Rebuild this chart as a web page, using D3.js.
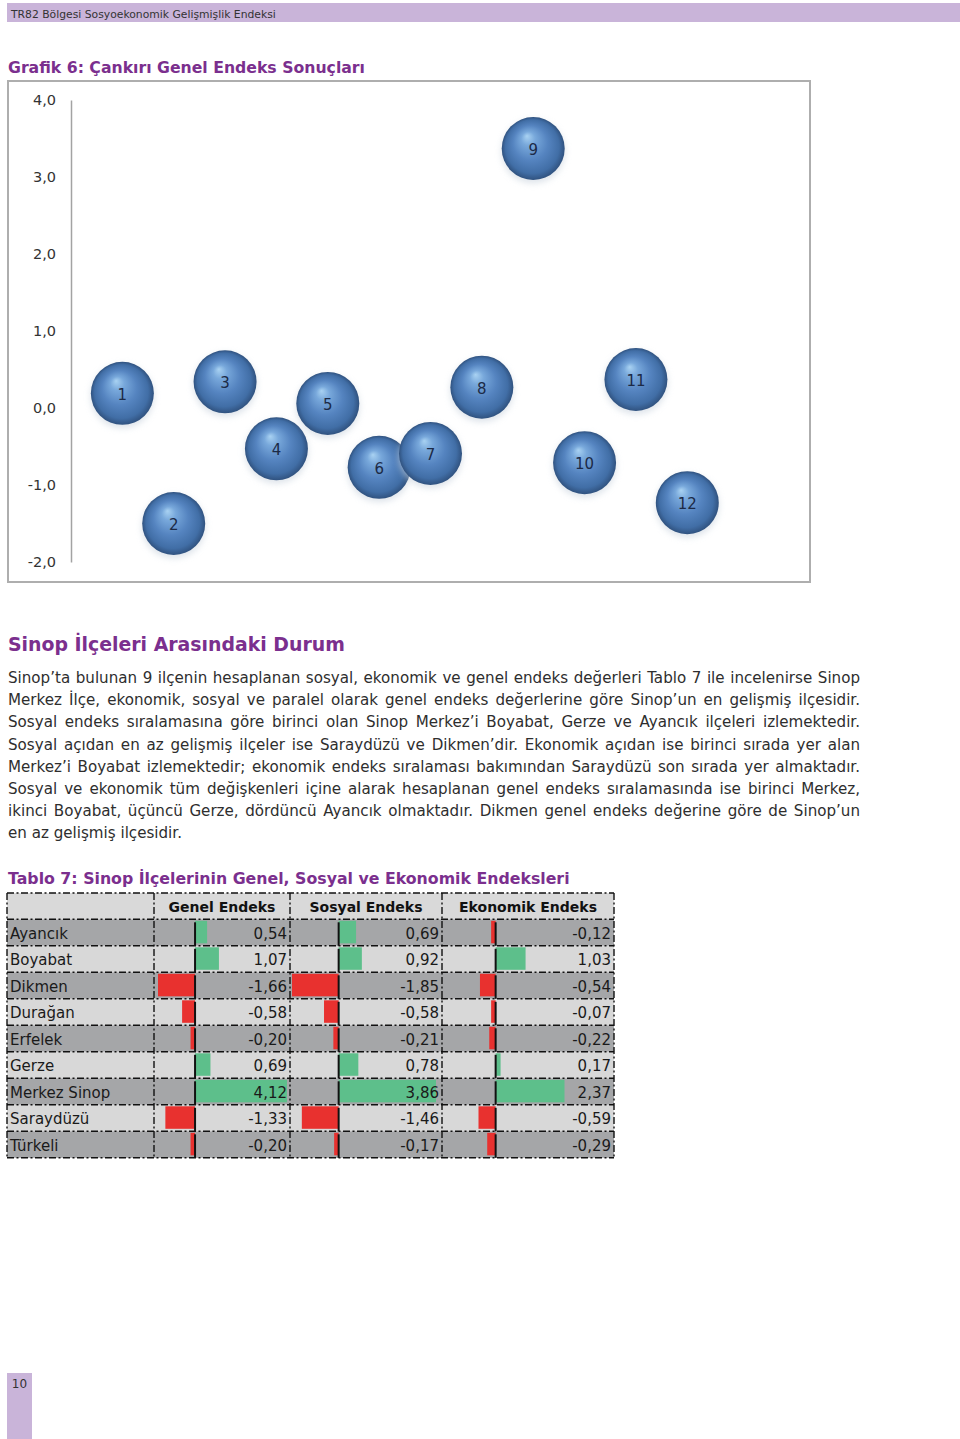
<!DOCTYPE html>
<html>
<head>
<meta charset="utf-8">
<script src="https://cdn.jsdelivr.net/npm/d3@7"></script>
<style>
  html, body { margin: 0; padding: 0; background: #fff; }
  svg { display: block; }
</style>
</head>
<body>
<script>
// ---------------- DATA ----------------
const headerText = "TR82 Bölgesi Sosyoekonomik Gelişmişlik Endeksi";
const chartTitle = "Grafik 6: Çankırı Genel Endeks Sonuçları";
const bubbleIds = [1, 2, 3, 4, 5, 6, 7, 8, 9, 10, 11, 12];
const bubbleValues = [0.19, -1.50, 0.34, -0.53, 0.06, -0.77, -0.59, 0.27, 3.37, -0.71, 0.37, -1.23];
const yTickValues = [4, 3, 2, 1, 0, -1, -2];

const sectionTitle = "Sinop İlçeleri Arasındaki Durum";
const paragraphLines = [
  "Sinop’ta bulunan 9 ilçenin hesaplanan sosyal, ekonomik ve genel endeks değerleri Tablo 7 ile incelenirse Sinop",
  "Merkez İlçe, ekonomik, sosyal ve paralel olarak genel endeks değerlerine göre Sinop’un en gelişmiş ilçesidir.",
  "Sosyal endeks sıralamasına göre birinci olan Sinop Merkez’i Boyabat, Gerze ve Ayancık ilçeleri izlemektedir.",
  "Sosyal açıdan en az gelişmiş ilçeler ise Saraydüzü ve Dikmen’dir.  Ekonomik açıdan ise birinci sırada yer alan",
  "Merkez’i Boyabat izlemektedir; ekonomik endeks sıralaması bakımından Saraydüzü son sırada yer almaktadır.",
  "Sosyal ve ekonomik tüm değişkenleri içine alarak hesaplanan genel endeks sıralamasında ise birinci Merkez,",
  "ikinci Boyabat, üçüncü Gerze, dördüncü Ayancık olmaktadır.  Dikmen genel endeks değerine göre de Sinop’un",
  "en az gelişmiş ilçesidir."
];

const tableTitle = "Tablo 7: Sinop İlçelerinin Genel, Sosyal ve Ekonomik Endeksleri";
const tableHeaders = ["Genel Endeks", "Sosyal Endeks", "Ekonomik Endeks"];
const districts = ["Ayancık", "Boyabat", "Dikmen", "Durağan", "Erfelek", "Gerze", "Merkez Sinop", "Saraydüzü", "Türkeli"];
const genelValues = [0.54, 1.07, -1.66, -0.58, -0.20, 0.69, 4.12, -1.33, -0.20];
const sosyalValues = [0.69, 0.92, -1.85, -0.58, -0.21, 0.78, 3.86, -1.46, -0.17];
const ekonomikValues = [-0.12, 1.03, -0.54, -0.07, -0.22, 0.17, 2.37, -0.59, -0.29];
const pageNumber = "10";

// ---------------- SETUP ----------------
const W = 960, H = 1439;
const FONT = "'DejaVu Sans', Verdana, sans-serif";
const PURPLE = "#7b2f8e";
const svg = d3.select("body").append("svg").attr("width", W).attr("height", H)
  .style("font-family", FONT);
svg.append("rect").attr("width", W).attr("height", H).attr("fill", "#fff");

function fitText(sel, target) {
  const fs = parseFloat(sel.attr("font-size"));
  const w = sel.node().getComputedTextLength();
  sel.attr("font-size", (fs * target / w).toFixed(2));
  return sel;
}

// header bar
svg.append("rect").attr("x", 7).attr("y", 3).attr("width", W - 7).attr("height", 19).attr("fill", "#c9b4d9");
fitText(svg.append("text").attr("x", 11).attr("y", 17.5).attr("font-size", 12).attr("fill", "#333")
  .text(headerText), 265);

// chart title
fitText(svg.append("text").attr("x", 8).attr("y", 73).attr("font-size", 18).attr("font-weight", "bold")
  .attr("fill", PURPLE).text(chartTitle), 357);

// ---------------- BUBBLE CHART ----------------
svg.append("rect").attr("x", 8).attr("y", 81).attr("width", 802).attr("height", 501)
  .attr("fill", "#fff").attr("stroke", "#aeaeae").attr("stroke-width", 2);

const defs = svg.append("defs");
const grad = defs.append("radialGradient").attr("id", "ball")
  .attr("cx", "50%").attr("cy", "50%").attr("r", "50%").attr("fx", "40%").attr("fy", "30%");
[["0%", "#a9d2f2"], ["22%", "#78a8db"], ["55%", "#5584c0"], ["85%", "#416ea6"], ["100%", "#30527f"]]
  .forEach(([o, c]) => grad.append("stop").attr("offset", o).attr("stop-color", c));
const blur = defs.append("filter").attr("id", "soft").attr("x", "-50%").attr("y", "-50%").attr("width", "200%").attr("height", "200%");
blur.append("feGaussianBlur").attr("stdDeviation", 3);

const x = d3.scaleLinear().domain([0, 14]).range([71, 790]);
const y = d3.scaleLinear().domain([-2, 4]).range([562, 100]);

const yAxis = d3.axisLeft(y).tickValues(yTickValues).tickSize(0).tickPadding(15)
  .tickFormat(d => d3.format(".1f")(d).replace(".", ",").replace("−", "-"));
const ga = svg.append("g").attr("transform", `translate(${x(0)},0)`).call(yAxis);
ga.select(".domain").attr("stroke", "#a3a3a3").attr("stroke-width", 1.5);
ga.selectAll("text").attr("font-size", 14.5).attr("font-family", FONT).attr("fill", "#333");

const bubbles = svg.append("g").selectAll("g").data(bubbleIds).join("g")
  .attr("transform", (d, i) => `translate(${x(d)},${y(bubbleValues[i])})`);
bubbles.append("circle").attr("r", 32).attr("cy", 3).attr("fill", "#c9d3de").attr("opacity", 0.6).attr("filter", "url(#soft)");
bubbles.append("circle").attr("r", 31.5).attr("fill", "url(#ball)");
bubbles.append("text").attr("text-anchor", "middle").attr("dy", "0.36em").attr("y", 1)
  .attr("font-size", 15).attr("fill", "#1c2a46").text(d => d);

// ---------------- TEXT SECTION ----------------
fitText(svg.append("text").attr("x", 8).attr("y", 651).attr("font-size", 20).attr("font-weight", "bold")
  .attr("fill", PURPLE).text(sectionTitle), 337);

// determine body font size from the last (unjustified) line
const probe = svg.append("text").attr("font-size", 15).text(paragraphLines[paragraphLines.length - 1]);
const bodyFs = 15 * 174 / probe.node().getComputedTextLength();
probe.remove();

const body = svg.append("g").attr("font-size", bodyFs.toFixed(2)).attr("fill", "#2e2e2e");
paragraphLines.forEach((line, li) => {
  const yb = 683 + li * 22.2;
  const words = line.split(/\s+/);
  const justify = li < paragraphLines.length - 1;
  const els = words.map(w => body.append("text").attr("y", yb).text(w));
  const widths = els.map(e => e.node().getComputedTextLength());
  const total = d3.sum(widths);
  const spaceW = bodyFs * 0.318;
  const gap = justify ? (852 - total) / (words.length - 1) : spaceW;
  let cx = 8;
  els.forEach((e, i) => { e.attr("x", cx); cx += widths[i] + gap; });
});

// ---------------- TABLE ----------------
fitText(svg.append("text").attr("x", 8).attr("y", 884).attr("font-size", 18).attr("font-weight", "bold")
  .attr("fill", PURPLE).text(tableTitle), 562);

const tTop = 893, hdrH = 26.3, rowH = 26.5;
const rowY = i => tTop + hdrH + i * rowH;
const tBottom = rowY(districts.length);
const colEdges = [7, 154, 290, 442, 614];
const cols = [
  { vals: genelValues, x0: 154, x1: 290, range: [158, 287] },
  { vals: sosyalValues, x0: 290, x1: 442, range: [292, 436] },
  { vals: ekonomikValues, x0: 442, x1: 614, range: [478.5, 564.5] }
];
const tbl = svg.append("g");
// backgrounds
tbl.append("rect").attr("x", 7).attr("y", tTop).attr("width", 607).attr("height", hdrH).attr("fill", "#d9d9d9");
tbl.selectAll("rect.row").data(districts).join("rect").attr("class", "row")
  .attr("x", 7).attr("y", (d, i) => rowY(i)).attr("width", 607).attr("height", rowH)
  .attr("fill", (d, i) => i % 2 === 0 ? "#a5a6a8" : "#d8d8d8");

// bars
cols.forEach(c => {
  const s = d3.scaleLinear().domain(d3.extent(c.vals)).range(c.range);
  const z = s(0);
  tbl.append("g").selectAll("rect").data(c.vals).join("rect")
    .attr("x", v => v >= 0 ? z : Math.min(s(v), z - 4.5)).attr("width", v => Math.max(Math.abs(s(v) - z), 4.5))
    .attr("y", (v, i) => rowY(i) + 1.5).attr("height", rowH - 4)
    .attr("fill", v => v >= 0 ? "#5dbf8b" : "#e8312f");
  tbl.append("g").selectAll("line").data(c.vals).join("line")
    .attr("x1", z).attr("x2", z).attr("y1", (v, i) => rowY(i) + 3).attr("y2", (v, i) => rowY(i) + rowH)
    .attr("stroke", "#111").attr("stroke-width", 2);
  tbl.append("g").selectAll("text").data(c.vals).join("text")
    .attr("x", c.x1 - 3).attr("y", (v, i) => rowY(i) + rowH / 2 + 6).attr("text-anchor", "end")
    .attr("font-size", 15).attr("fill", "#1a1a1a")
    .text(v => d3.format(".2f")(v).replace(".", ",").replace("−", "-"));
});

// names
tbl.append("g").selectAll("text").data(districts).join("text")
  .attr("x", 10).attr("y", (d, i) => rowY(i) + rowH / 2 + 6)
  .attr("font-size", 15).attr("fill", "#1a1a1a").text(d => d);

// headers
const hdrCenters = [222, 366, 528];
tableHeaders.forEach((h, i) => {
  tbl.append("text").attr("x", hdrCenters[i]).attr("y", tTop + hdrH / 2 + 5.5).attr("text-anchor", "middle")
    .attr("font-size", 14).attr("font-weight", "bold").attr("fill", "#111").text(h);
});

// dashed grid
const dash = "7,2.5,2,2.5";
const hLines = [tTop, ...d3.range(districts.length + 1).map(rowY)];
tbl.append("g").selectAll("line").data(hLines).join("line")
  .attr("x1", 7).attr("x2", 614).attr("y1", d => d).attr("y2", d => d)
  .attr("stroke", "#111").attr("stroke-width", 1.4).attr("stroke-dasharray", dash);
tbl.append("g").selectAll("line").data(colEdges).join("line")
  .attr("x1", d => d).attr("x2", d => d).attr("y1", tTop).attr("y2", tBottom)
  .attr("stroke", "#111").attr("stroke-width", 1.4).attr("stroke-dasharray", dash);

// page number
svg.append("rect").attr("x", 7).attr("y", 1373).attr("width", 25).attr("height", 66).attr("fill", "#c9b4d9");
svg.append("text").attr("x", 19.5).attr("y", 1387.5).attr("text-anchor", "middle").attr("font-size", 12)
  .attr("fill", "#333").text(pageNumber);
</script>
</body>
</html>
